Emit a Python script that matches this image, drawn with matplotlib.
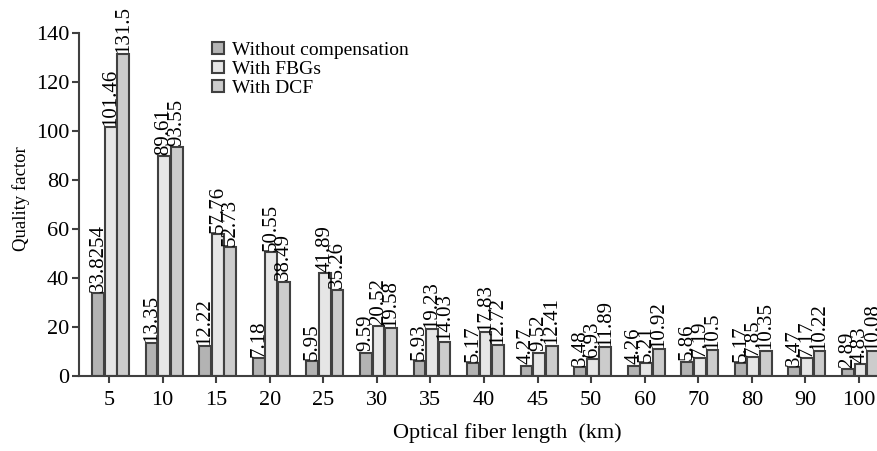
import numpy as np
import matplotlib.pyplot as plt

plt.rcParams['font.family'] = ['Liberation Serif', 'DejaVu Serif']

lengths = ['5', '10', '15', '20', '25', '30', '35', '40', '45', '50', '60', '70', '80', '90', '100']
without_comp = [33.8254, 13.35, 12.22, 7.18, 5.95, 9.59, 5.93, 5.17, 4.27, 3.48, 4.26, 5.86, 5.17, 3.47, 2.89]
with_fbg = [101.46, 89.61, 57.76, 50.55, 41.89, 20.52, 19.23, 17.83, 9.52, 6.93, 5.21, 7.19, 7.85, 7.17, 4.83]
with_dcf = [131.5, 93.55, 52.73, 38.49, 35.26, 19.58, 14.03, 12.72, 12.41, 11.89, 10.92, 10.5, 10.35, 10.22, 10.08]

series = [
    ('Without compensation', without_comp, '#b3b3b3'),
    ('With FBGs', with_fbg, '#e6e6e6'),
    ('With DCF', with_dcf, '#cccccc'),
]

fig = plt.figure(figsize=(8.78, 4.51), dpi=100)
ax = fig.add_axes([0.09, 0.1663, 0.909, 0.7605])

x = np.arange(len(lengths))
w = 0.22
step = 0.235
for i, (name, vals, col) in enumerate(series):
    pos = x + (i - 1) * step + 0.03
    bars = ax.bar(pos, vals, width=w, color=col, edgecolor='#404040',
                  linewidth=1.5, label=name)
    for b, v in zip(bars, vals):
        ax.text(b.get_x() + b.get_width() / 2, v + 0.5, f'{v:g}',
                rotation=90, ha='center', va='bottom', fontsize=15)

ax.set_xlim(-0.56, 14.34)
ax.set_ylim(0, 140)
ax.set_xticks(x)
ax.set_xticklabels(lengths, fontsize=16)
ax.set_yticks(np.arange(0, 141, 20))
ax.tick_params(axis='y', labelsize=16, length=5, width=1.5, color='#404040', pad=2)
ax.tick_params(axis='x', length=5, width=1.5, color='#404040', pad=6)
for s in ['top', 'right']:
    ax.spines[s].set_visible(False)
for s in ['left', 'bottom']:
    ax.spines[s].set_color('#404040')
    ax.spines[s].set_linewidth(1.5)

# axis titles placed by hand to sit where the original has them
fig.text(21 / 878, 1 - 199 / 451, 'Quality factor', rotation=90,
         ha='center', va='center', fontsize=13.5)
fig.text(507 / 878, 1 - 433 / 451, 'Optical fiber length  (km)',
         ha='center', va='center', fontsize=16)

ax.legend(loc='upper left', bbox_to_anchor=(0.145, 1.025), frameon=False,
          fontsize=14, handlelength=0.6, handleheight=0.6, handletextpad=0.4,
          labelspacing=0.1)

fig.savefig('out.png', dpi=100)
